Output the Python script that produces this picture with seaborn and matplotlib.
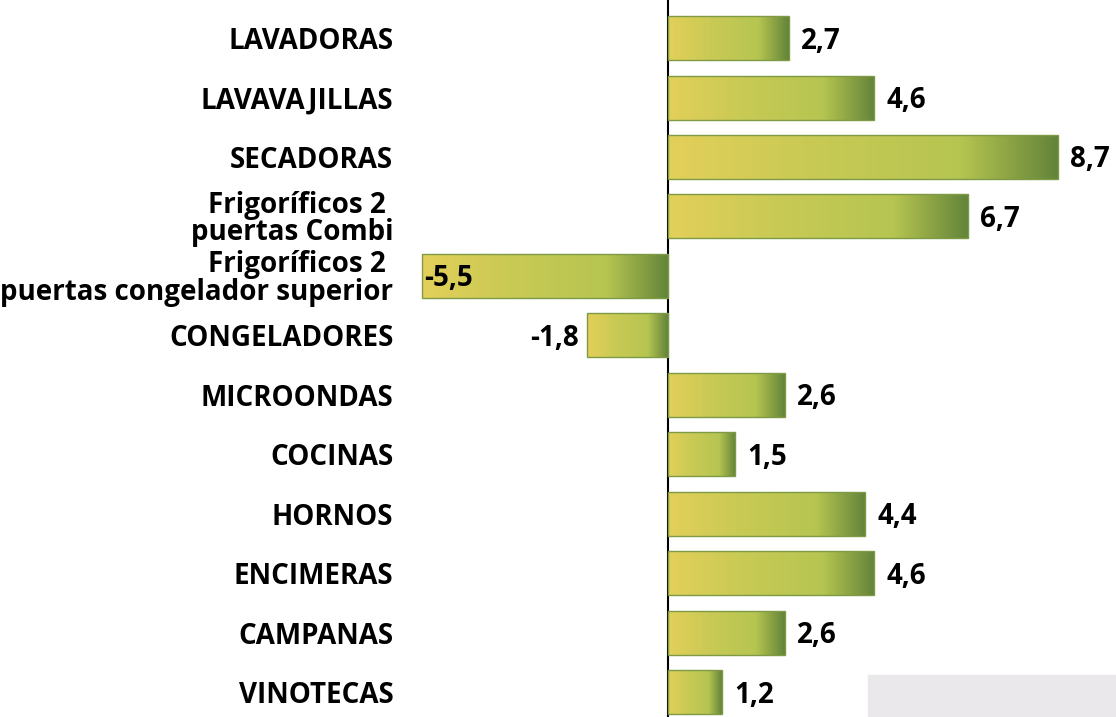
import numpy as np
import pandas as pd
import seaborn as sns
import matplotlib.pyplot as plt
from matplotlib.colors import LinearSegmentedColormap
from matplotlib.patches import Rectangle

categories = ['LAVADORAS', 'LAVAVAJILLAS', 'SECADORAS',
              'Frigoríficos 2 \npuertas Combi',
              'Frigoríficos 2 \npuertas congelador superior',
              'CONGELADORES', 'MICROONDAS', 'COCINAS', 'HORNOS',
              'ENCIMERAS', 'CAMPANAS', 'VINOTECAS']
values = [2.7, 4.6, 8.7, 6.7, -5.5, -1.8, 2.6, 1.5, 4.4, 4.6, 2.6, 1.2]
value_labels = ['2,7', '4,6', '8,7', '6,7', '-5,5', '-1,8', '2,6', '1,5',
                '4,4', '4,6', '2,6', '1,2']

df = pd.DataFrame({'categoria': categories, 'valor': values})

sns.set_style('white')
plt.rcParams['font.family'] = ['Open Sans', 'DejaVu Sans']
plt.rcParams['text.color'] = 'black'
plt.rcParams['ytick.color'] = 'black'

fig = plt.figure(figsize=(11.16, 7.17), dpi=100)
ax = fig.add_axes([0.363, 0, 0.637, 1])

sns.barplot(data=df, y='categoria', x='valor', orient='h', width=0.74,
            color='#c3c853', ax=ax)

# degradado horizontal amarillo -> verde dentro de cada barra
grad = LinearSegmentedColormap.from_list(
    'verde', [(0, '#e3d05a'), (0.35, '#c9ca55'), (0.75, '#b6c551'),
              (0.88, '#8ca344'), (1, '#62843a')])
g = np.linspace(0, 1, 256).reshape(1, -1)
for bar in ax.patches:
    x0, y0 = bar.get_x(), bar.get_y()
    w, h = bar.get_width(), bar.get_height()
    left, right = min(x0, x0 + w), max(x0, x0 + w)
    bar.set_facecolor('none')
    bar.set_edgecolor('#7f9a45')
    bar.set_linewidth(1.0)
    im = ax.imshow(g, cmap=grad, aspect='auto', extent=(left, right, y0 + h, y0),
                   zorder=bar.get_zorder() - 0.1, interpolation='bilinear')
    im.set_clip_path(bar)

ax.set_xlim(-5.87, 10.0)
ax.set_ylim(11.42, -0.64)
ax.axvline(0, color='black', linewidth=1.5, zorder=0.5)

for i, (v, lab) in enumerate(zip(values, value_labels)):
    if v >= 0:
        ax.text(v + 0.27, i + 0.05, lab, ha='left', va='center',
                fontsize=20, fontweight='bold')
    elif v < -4:
        ax.text(v + 0.05, i + 0.05, lab, ha='left', va='center',
                fontsize=20, fontweight='bold')
    else:
        ax.text(v - 0.2, i + 0.05, lab, ha='right', va='center',
                fontsize=20, fontweight='bold')

ax.set_xlabel('')
ax.set_ylabel('')
ax.set_xticks([])
ax.tick_params(axis='y', length=0, pad=8.5)
for t in ax.get_yticklabels():
    t.set_fontsize(20)
    t.set_fontweight('bold')
    t.set_linespacing(0.92)
sns.despine(ax=ax, left=True, bottom=True)

fig.patches.append(Rectangle((868 / 1116, 0), 248 / 1116, 42 / 717,
                             transform=fig.transFigure, color='#ebe8eb',
                             zorder=5))

fig.savefig('out.png', dpi=100)
